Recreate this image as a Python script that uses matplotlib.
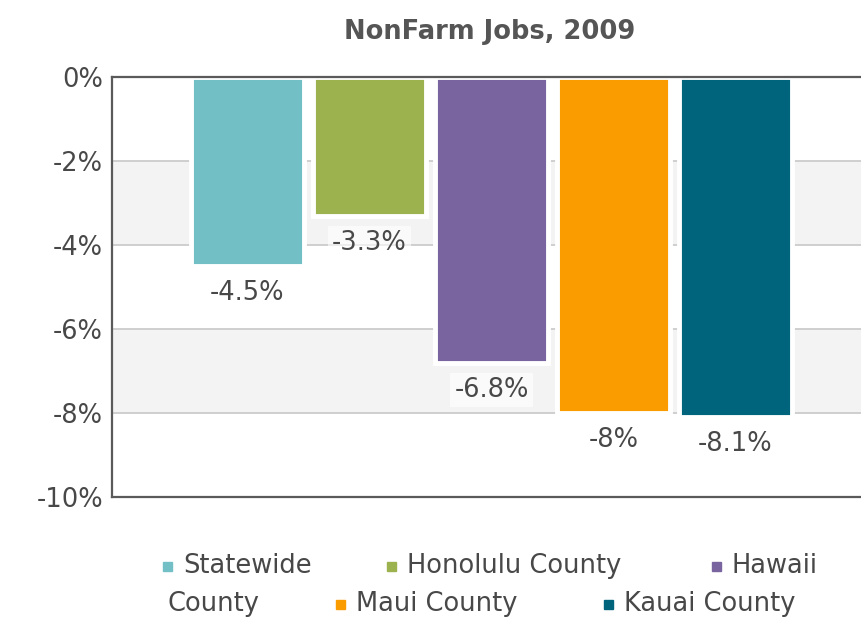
import matplotlib
matplotlib.use("Agg")
import matplotlib.pyplot as plt
from matplotlib.patches import Rectangle

categories = ["Statewide", "Honolulu County", "Hawaii County", "Maui County", "Kauai County"]
values = [-4.5, -3.3, -6.8, -8.0, -8.1]
value_labels = ["-4.5%", "-3.3%", "-6.8%", "-8%", "-8.1%"]
colors = ["#72c0c6", "#9bb24e", "#7a64a0", "#fa9c00", "#00647c"]
yticks = [0, -2, -4, -6, -8, -10]
ytick_labels = ["0%", "-2%", "-4%", "-6%", "-8%", "-10%"]
title = "NonFarm Jobs, 2009"

plt.rcParams['font.family'] = ['DejaVu Sans']
fig = plt.figure(figsize=(8.62, 6.18), dpi=100)
ax = fig.add_axes([112/862, 1-497/618, (871-112)/862, 420/618])

x = list(range(len(categories)))
ax.set_xlim(-1.11, 5.11)
ax.set_ylim(-10, 0)

# alternating bands
for lo, hi in [(-4, -2), (-8, -6)]:
    ax.axhspan(lo, hi, color="#f3f3f3", zorder=0, lw=0)
for t in yticks[1:-1]:
    ax.axhline(t, color="#cccccc", lw=1.3, zorder=1)

ax.bar(x, values, width=0.92, color=colors, edgecolor="white", linewidth=3.5, zorder=2)

for xi, v, lab in zip(x, values, value_labels):
    ax.annotate(lab, (xi, v), xytext=(0, -19.5), textcoords="offset points",
                ha="center", va="center", fontsize=18.5, color="#484848",
                bbox=dict(boxstyle="square,pad=0.15", fc="white", ec="none", alpha=0.6),
                zorder=3)

ax.set_yticks(yticks)
ax.set_yticklabels(ytick_labels, fontsize=18.5, color="#484848")
ax.tick_params(axis="y", length=0, pad=6.5)
ax.set_xticks([])
for s in ["left", "bottom", "top"]:
    ax.spines[s].set_color("#5a5a5a")
    ax.spines[s].set_linewidth(1.6)
ax.spines["right"].set_visible(False)

fig.text(490/862, 1-32/618, title, ha="center", va="center", fontsize=18.5,
         fontweight="bold", color="#555555")

# legend, wrapped like the original
leg_entries = [
    (0, 163, 566, "Statewide"),
    (1, 387, 566, "Honolulu County"),
    (2, 712, 566, "Hawaii"),
    (3, 336, 604, "Maui County"),
    (4, 604, 604, "Kauai County"),
]
for idx, px, py, txt in leg_entries:
    fig.patches.append(Rectangle((px/862, 1-(py+5)/618), 9/862, 9/618,
                                 transform=fig.transFigure, color=colors[idx]))
    fig.text((px+20)/862, 1-py/618, txt, ha="left", va="center", fontsize=18.5, color="#484848")
fig.text(168/862, 1-604/618, "County", ha="left", va="center", fontsize=18.5, color="#484848")

fig.savefig("out.png", dpi=100)
